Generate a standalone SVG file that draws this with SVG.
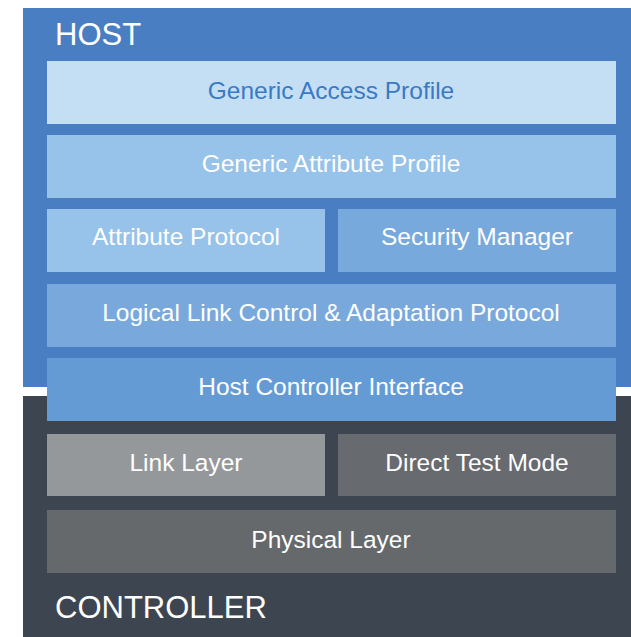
<svg xmlns="http://www.w3.org/2000/svg" width="631" height="637" viewBox="0 0 631 637">
<style>
text{font-family:"Liberation Sans",Arial,sans-serif;fill:#fff;text-anchor:middle}
.lbl{font-size:24.5px}
.big{font-size:31px;text-anchor:start}
</style>
<rect x="0" y="0" width="631" height="637" fill="#fff"/>
<g id="host">
<rect x="23" y="8" width="608" height="379" fill="#4a7ec2"/>
<text class="big" x="55" y="45">HOST</text>
</g>
<g id="controller">
<rect x="23" y="396" width="608" height="241" fill="#3d4650"/>
<text class="big" x="55" y="618">CONTROLLER</text>
</g>
<g id="gap"><rect x="47" y="61" width="569" height="63" fill="#c4dff4"/><text class="lbl" x="331" y="99" style="fill:#3b79c4">Generic Access Profile</text></g>
<g id="gatt"><rect x="47" y="135" width="569" height="63" fill="#97c2e9"/><text class="lbl" x="331" y="172">Generic Attribute Profile</text></g>
<g id="att"><rect x="47" y="209" width="278" height="63" fill="#97c2e9"/><text class="lbl" x="186" y="245">Attribute Protocol</text></g>
<g id="sm"><rect x="338" y="209" width="278" height="63" fill="#78a9dc"/><text class="lbl" x="477" y="245">Security Manager</text></g>
<g id="l2cap"><rect x="47" y="284" width="569" height="63" fill="#79a9dc"/><text class="lbl" x="331" y="321">Logical Link Control &amp; Adaptation Protocol</text></g>
<g id="hci"><rect x="47" y="358" width="569" height="63" fill="#659bd4"/><text class="lbl" x="331" y="395">Host Controller Interface</text></g>
<g id="ll"><rect x="47" y="434" width="278" height="62" fill="#94989b"/><text class="lbl" x="186" y="471">Link Layer</text></g>
<g id="dtm"><rect x="338" y="434" width="278" height="62" fill="#676a6e"/><text class="lbl" x="477" y="471">Direct Test Mode</text></g>
<g id="phy"><rect x="47" y="510" width="569" height="63" fill="#66696c"/><text class="lbl" x="331" y="548">Physical Layer</text></g>
<g id="connectors"/>
</svg>
